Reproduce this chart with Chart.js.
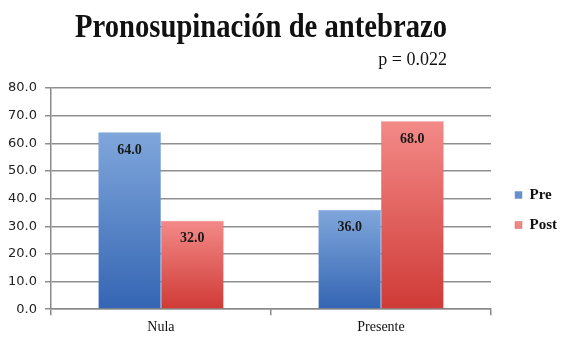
<!DOCTYPE html>
<html>
<head>
<meta charset="utf-8">
<script src="https://cdn.jsdelivr.net/npm/chart.js@4.4.0/dist/chart.umd.min.js"></script>
<style>
    html, body { margin: 0; padding: 0; background: #fff; }
    #wrap { width: 570px; height: 346px; position: relative; }
</style>
</head>
<body>
<div id="wrap"><canvas id="pronoChart" width="570" height="346"></canvas></div>
<script>
const categories = ["Nula", "Presente"];
const preValues = [64.0, 36.0];
const postValues = [32.0, 68.0];
const seriesNames = ["Pre", "Post"];
const yTicks = [0, 10, 20, 30, 40, 50, 60, 70, 80];
const titleText = "Pronosupinación de antebrazo";
const subtitleText = "p = 0.022";

(function () {
    const canvas = document.getElementById("pronoChart");
    if (!canvas || typeof Chart === "undefined") {
        return;
    }

    const serif = "'Liberation Serif', 'DejaVu Serif', serif";
    const sans = "'DejaVu Sans', Verdana, sans-serif";

    // per-bar vertical gradient, light at the top, darker at the base
    const barGradient = (top, bottom) => (ctx) => {
        const chart = ctx.chart;
        if (!chart.chartArea || ctx.type !== "data") {
            return bottom;
        }
        const y = chart.scales.y;
        const yTop = y.getPixelForValue(ctx.raw);
        const yBase = y.getPixelForValue(0);
        const g = chart.ctx.createLinearGradient(0, yTop, 0, yBase);
        g.addColorStop(0, top);
        g.addColorStop(1, bottom);
        return g;
    };

    const headerPlugin = {
        id: "header",
        afterDraw(chart) {
            const c = chart.ctx;
            const right = 447;
            c.save();
            c.fillStyle = "#111";
            c.textAlign = "left";
            c.textBaseline = "alphabetic";
            // title font is narrower than Liberation Serif, squeeze it to fit
            c.font = `bold 34px ${serif}`;
            const w = c.measureText(titleText).width;
            const sx = 372 / w;
            c.save();
            c.translate(right - 372, 37);
            c.scale(sx, 1);
            c.fillText(titleText, 0, 0);
            c.restore();
            c.textAlign = "right";
            c.font = `18px ${serif}`;
            c.fillText(subtitleText, right, 65);
            c.restore();
        }
    };

    // nudge the legend a little away from the plot and upwards
    const legendNudge = {
        id: "legendNudge",
        afterLayout(chart) {
            const lg = chart.legend;
            if (!lg) return;
            lg.left += 9;
            lg.right += 9;
            lg.top -= 4;
            lg.bottom -= 4;
        }
    };

    const valueLabels = {
        id: "valueLabels",
        afterDatasetsDraw(chart) {
            const c = chart.ctx;
            c.save();
            c.fillStyle = "#1a1a1a";
            c.font = `bold 14px ${serif}`;
            c.textAlign = "center";
            c.textBaseline = "middle";
            chart.data.datasets.forEach((ds, i) => {
                chart.getDatasetMeta(i).data.forEach((bar, j) => {
                    c.fillText(Number(ds.data[j]).toFixed(1), bar.x, bar.y + 18);
                });
            });
            c.restore();
        }
    };

    new Chart(canvas, {
        type: "bar",
        data: {
            labels: categories,
            datasets: [{
                label: seriesNames[0],
                data: preValues,
                backgroundColor: barGradient("#80a7dc", "#3465b3"),
                borderColor: "#6f95cc",
                borderWidth: 0.5
            }, {
                label: seriesNames[1],
                data: postValues,
                backgroundColor: barGradient("#f38a88", "#cf3a36"),
                borderColor: "#d86a68",
                borderWidth: 0.5
            }]
        },
        options: {
            responsive: false,
            animation: false,
            categoryPercentage: 0.57,
            barPercentage: 1.0,
            layout: { padding: { top: 88, right: 12, bottom: 6, left: 0 } },
            plugins: {
                legend: {
                    position: "right",
                    labels: {
                        boxWidth: 7,
                        boxHeight: 7,
                        padding: 15,
                        color: "#111",
                        font: { family: serif, size: 15, weight: "bold" }
                    }
                },
                tooltip: { enabled: false }
            },
            scales: {
                x: {
                    grid: {
                        offset: true,
                        drawOnChartArea: false,
                        drawTicks: true,
                        tickLength: 6,
                        color: "#8a8a8a",
                        lineWidth: 1.5
                    },
                    border: { color: "#8a8a8a", width: 1.5 },
                    ticks: {
                        color: "#111",
                        padding: 4,
                        font: { family: serif, size: 14 }
                    }
                },
                y: {
                    min: 0,
                    max: 80,
                    afterBuildTicks: (axis) => {
                        axis.ticks = yTicks.map((v) => ({ value: v }));
                    },
                    grid: {
                        color: "#8f8f8f",
                        lineWidth: 1.5,
                        tickLength: 6
                    },
                    border: { color: "#8a8a8a", width: 1.5 },
                    ticks: {
                        color: "#222",
                        padding: 8,
                        font: { family: sans, size: 13 },
                        callback: (v) => Number(v).toFixed(1)
                    }
                }
            }
        },
        plugins: [headerPlugin, legendNudge, valueLabels]
    });
})();
</script>
</body>
</html>
